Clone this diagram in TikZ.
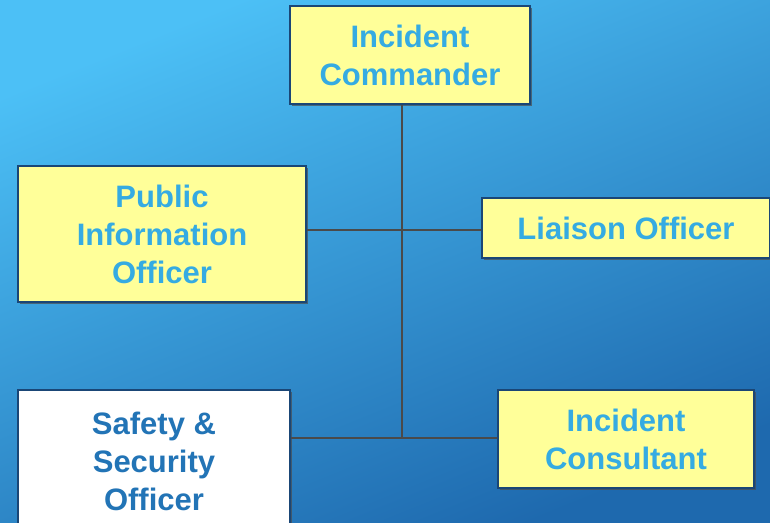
\documentclass[tikz,border=0pt]{standalone}
\usepackage{fontspec}
\setmainfont{Liberation Sans}
\usepackage{tikz}
\usetikzlibrary{calc,shadows}
\definecolor{bglight}{HTML}{4CC0F6}
\definecolor{bgdark}{HTML}{1E69AE}
\definecolor{boxfill}{HTML}{FFFF99}
\definecolor{boxline}{HTML}{1A4676}
\definecolor{textlight}{HTML}{35ABE2}
\definecolor{textdark}{HTML}{2274B6}
\definecolor{linkgray}{HTML}{4A4A4A}
\tikzset{
	post/.style={rectangle,draw=boxline,line width=2pt,fill=boxfill,text=textlight,
		font=\fontsize{31}{38}\selectfont\bfseries,align=center,inner sep=0pt,
		drop shadow={shadow xshift=1.5pt,shadow yshift=-1.5pt,opacity=0.7,fill=black!70}},
	whitepost/.style={post,fill=white,text=textdark},
	link/.style={draw=linkgray,line width=2pt}
	}

\begin{document}
\begin{tikzpicture}[x=1pt,y=-1pt]
          \shade[shading=axis,left color=bglight,right color=bgdark,shading angle=22]
                (0,0) rectangle (770,522);
          \useasboundingbox (0,0) rectangle (770,522);
          \coordinate (j1) at (402,230);
          \coordinate (j2) at (402,438);

          \node[post,minimum width=240,minimum height=98] (cmd) at (410,55) {Incident\\Commander};
          \node[post,minimum width=288,minimum height=136] (pio) at (162,234) {Public\\Information\\Officer};
          \node[post,minimum width=288,minimum height=60] (lia) at (626,228) {Liaison Officer};
          \node[whitepost,minimum width=272,minimum height=142] (saf) at (154,461) {Safety \&\\Security\\Officer};
          \node[post,minimum width=256,minimum height=98] (con) at (626,439) {Incident\\Consultant};

          \draw[link] (cmd.south -| j1) -- (j2);
          \draw[link] (pio.east |- j1) -- (lia.west |- j1);
          \draw[link] (saf.east |- j2) -- (con.west |- j2);
        \end{tikzpicture}
\end{document}
